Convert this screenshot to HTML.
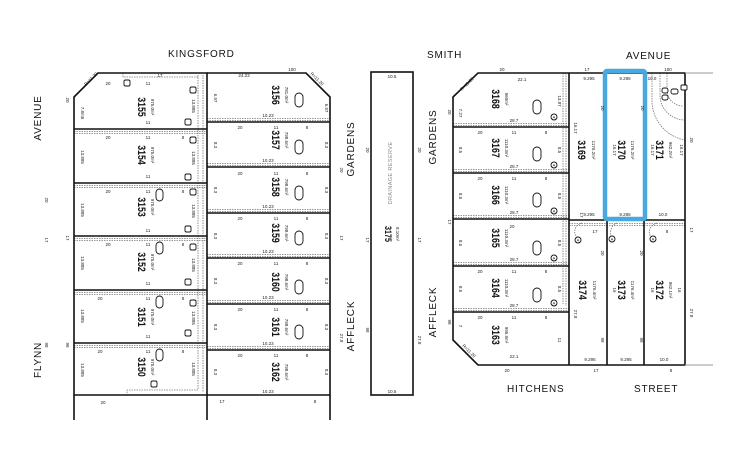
<!DOCTYPE html>
<html><head><meta charset="utf-8"><style>
html,body{margin:0;padding:0;background:#fff;}
svg{display:block;}
text{font-family:"Liberation Sans",Arial,sans-serif;}
</style></head><body>
<svg width="750" height="465" viewBox="0 0 750 465" xmlns="http://www.w3.org/2000/svg">
<rect width="750" height="465" fill="#fff"/>

<!-- Road labels -->
<g font-size="10" fill="#111" letter-spacing="0.8">
<text x="168" y="57">KINGSFORD</text>
<text x="427" y="58">SMITH</text>
<text x="626" y="59">AVENUE</text>
<text x="507" y="392">HITCHENS</text>
<text x="634" y="392">STREET</text>
<text transform="translate(41,118) rotate(-90)" text-anchor="middle">AVENUE</text>
<text transform="translate(41,360) rotate(-90)" text-anchor="middle">FLYNN</text>
<text transform="translate(354,149) rotate(-90)" text-anchor="middle">GARDENS</text>
<text transform="translate(354,326) rotate(-90)" text-anchor="middle">AFFLECK</text>
<text transform="translate(436,137) rotate(-90)" text-anchor="middle">GARDENS</text>
<text transform="translate(436,312) rotate(-90)" text-anchor="middle">AFFLECK</text>
</g>

<!-- Dashed easements -->
<g stroke="#777" stroke-width="0.8" stroke-dasharray="1.5,1" fill="none">
<!-- column 1 -->
<path d="M74 131.5H207M74 133.5H207 M74 185.5H207M74 187.5H207 M74 238.5H207M74 240.5H207 M74 292.5H207M74 294.5H207 M74 345.5H207M74 347.5H207"/>
<path d="M198 75V390H127V395 M203 75V392"/>
<path d="M123 73V77H198"/>
<!-- column 2 -->
<path d="M207 118.5H330M207 120.5H330 M207 163.5H330M207 165.5H330 M207 209.5H330M207 211.5H330 M207 254.5H330M207 256.5H330 M207 300.5H330M207 302.5H330 M207 346.5H330M207 348.5H330"/>
<!-- right column -->
<path d="M453 123.5H569M453 125.5H569 M453 169.5H569M453 171.5H569 M453 215.5H569M453 217.5H569 M453 262.5H569M453 264.5H569 M453 308.5H569M453 310.5H569"/>
<path d="M563 73V304 M566 73V306"/>
<path d="M569 223.5H685M569 225.5H685"/>
<!-- arcs near 3171 -->
<path d="M667 73V90A16 16 0 0 0 683 106 M660 73V95A25 25 0 0 0 685 120 M652 73V100A40 40 0 0 0 685 140"/>
<path d="M582 223C572 226 574 236 578 238 M617 223C609 226 610 236 612 238 M657 223C647 226 648 236 653 238"/>
</g>

<!-- Main boundaries -->
<g stroke="#111" stroke-width="1.6" fill="none">
<!-- column 1 -->
<path d="M98 73H207V395H74V97Z"/>
<path d="M74 129H207M74 183H207M74 236H207M74 290H207M74 343H207"/>
<path d="M74 395V420M207 395V420M330 395V420"/>
<!-- column 2 -->
<path d="M207 73H306L330 97V395H207"/>
<path d="M207 122H330M207 167H330M207 213H330M207 258H330M207 304H330M207 350H330"/>
<!-- drainage reserve -->
<rect x="371" y="72" width="42" height="323"/>
<!-- right block -->
<path d="M478 73H685V365H478L453 340V97Z"/>
<path d="M453 127H569M453 173H569M453 219H569M453 266H569M453 312H569"/>
<path d="M569 73V365M569 220H685M607 220V365M644 220V365"/>
</g>
<g stroke="#999" stroke-width="1" fill="none">
<path d="M685 73H713M685 365H713"/>
</g>

<!-- Lot 3170 highlight -->
<rect x="605" y="71" width="40" height="148" rx="2" fill="none" stroke="#4aa8e0" stroke-width="4.5"/>

<!-- Lot numbers -->
<g font-size="11" font-weight="bold" fill="#111" text-anchor="middle">
<text transform="translate(142,107) rotate(90) scale(0.8,1)" dy="4">3155</text>
<text transform="translate(142,155) rotate(90) scale(0.8,1)" dy="4">3154</text>
<text transform="translate(142,207) rotate(90) scale(0.8,1)" dy="4">3153</text>
<text transform="translate(142,262) rotate(90) scale(0.8,1)" dy="4">3152</text>
<text transform="translate(142,317) rotate(90) scale(0.8,1)" dy="4">3151</text>
<text transform="translate(142,367) rotate(90) scale(0.8,1)" dy="4">3150</text>
<text transform="translate(276,95) rotate(90) scale(0.8,1)" dy="4">3156</text>
<text transform="translate(276,140) rotate(90) scale(0.8,1)" dy="4">3157</text>
<text transform="translate(276,187) rotate(90) scale(0.8,1)" dy="4">3158</text>
<text transform="translate(276,233) rotate(90) scale(0.8,1)" dy="4">3159</text>
<text transform="translate(276,282) rotate(90) scale(0.8,1)" dy="4">3160</text>
<text transform="translate(276,327) rotate(90) scale(0.8,1)" dy="4">3161</text>
<text transform="translate(276,372) rotate(90) scale(0.8,1)" dy="4">3162</text>
<text transform="translate(496,99) rotate(90) scale(0.8,1)" dy="4">3168</text>
<text transform="translate(496,148) rotate(90) scale(0.8,1)" dy="4">3167</text>
<text transform="translate(496,195) rotate(90) scale(0.8,1)" dy="4">3166</text>
<text transform="translate(496,238) rotate(90) scale(0.8,1)" dy="4">3165</text>
<text transform="translate(496,288) rotate(90) scale(0.8,1)" dy="4">3164</text>
<text transform="translate(496,335) rotate(90) scale(0.8,1)" dy="4">3163</text>
<text transform="translate(582,150) rotate(90) scale(0.8,1)" dy="4">3169</text>
<text transform="translate(622,150) rotate(90) scale(0.8,1)" dy="4">3170</text>
<text transform="translate(660,150) rotate(90) scale(0.8,1)" dy="4">3171</text>
<text transform="translate(583,290) rotate(90) scale(0.8,1)" dy="4">3174</text>
<text transform="translate(622,290) rotate(90) scale(0.8,1)" dy="4">3173</text>
<text transform="translate(660,290) rotate(90) scale(0.8,1)" dy="4">3172</text>
<text transform="translate(388,234) rotate(90) scale(0.8,1)" dy="3" font-size="9">3175</text>
</g>

<!-- Areas -->
<g font-size="4.5" fill="#222" text-anchor="middle">
<text transform="translate(151,107) rotate(90)">975.0m²</text>
<text transform="translate(151,155) rotate(90)">975.0m²</text>
<text transform="translate(151,207) rotate(90)">975.0m²</text>
<text transform="translate(151,262) rotate(90)">975.0m²</text>
<text transform="translate(151,317) rotate(90)">975.0m²</text>
<text transform="translate(151,367) rotate(90)">975.0m²</text>
<text transform="translate(285,95) rotate(90)">781.0m²</text>
<text transform="translate(285,140) rotate(90)">798.6m²</text>
<text transform="translate(285,187) rotate(90)">798.6m²</text>
<text transform="translate(285,233) rotate(90)">798.6m²</text>
<text transform="translate(285,282) rotate(90)">798.6m²</text>
<text transform="translate(285,327) rotate(90)">798.6m²</text>
<text transform="translate(285,372) rotate(90)">798.6m²</text>
<text transform="translate(505,99) rotate(90)">960m²</text>
<text transform="translate(505,148) rotate(90)">1110.3m²</text>
<text transform="translate(505,195) rotate(90)">1110.3m²</text>
<text transform="translate(505,238) rotate(90)">1110.3m²</text>
<text transform="translate(505,288) rotate(90)">1110.3m²</text>
<text transform="translate(505,335) rotate(90)">995.9m²</text>
<text transform="translate(592,150) rotate(90)">1176.2m²</text>
<text transform="translate(631,150) rotate(90)">1176.2m²</text>
<text transform="translate(669,150) rotate(90)">962.2m²</text>
<text transform="translate(593,290) rotate(90)">1176.4m²</text>
<text transform="translate(631,290) rotate(90)">1176.4m²</text>
<text transform="translate(669,290) rotate(90)">962.1m²</text>
<text transform="translate(396,234) rotate(90)">8.10m²</text>
</g>

<!-- Drainage reserve label -->
<text transform="translate(392,173) rotate(-90)" text-anchor="middle" font-size="5.5" fill="#888" letter-spacing="0.4">DRAINAGE RESERVE</text>

<!-- Dimension texts -->
<g font-size="4.5" fill="#222" text-anchor="middle">
<text x="108" y="85">20</text><text x="148" y="85">11</text>
<text x="108" y="139">20</text><text x="148" y="139">11</text><text x="183" y="139">8</text>
<text x="108" y="193">20</text><text x="148" y="193">11</text><text x="183" y="193">8</text>
<text x="108" y="246">20</text><text x="148" y="246">11</text><text x="183" y="246">8</text>
<text x="100" y="300">20</text><text x="148" y="300">11</text><text x="183" y="300">8</text>
<text x="100" y="353">20</text><text x="148" y="353">11</text><text x="183" y="353">8</text>
<text x="148" y="124">11</text><text x="148" y="178">11</text><text x="148" y="232">11</text>
<text x="148" y="285">11</text><text x="148" y="338">11</text>
<text x="103" y="404">20</text><text x="160" y="77">17</text>
<text x="244" y="77">24.23</text><text x="292" y="71">100</text>
<text x="240" y="129">20</text><text x="276" y="129">11</text><text x="307" y="129">8</text>
<text x="240" y="175">20</text><text x="276" y="175">11</text><text x="307" y="175">8</text>
<text x="240" y="220">20</text><text x="276" y="220">11</text><text x="307" y="220">8</text>
<text x="240" y="265">20</text><text x="276" y="265">11</text><text x="307" y="265">8</text>
<text x="240" y="311">20</text><text x="276" y="311">11</text><text x="307" y="311">8</text>
<text x="240" y="357">20</text><text x="276" y="357">11</text><text x="307" y="357">8</text>
<text x="268" y="117">10.23</text><text x="268" y="162">10.23</text><text x="268" y="208">10.23</text>
<text x="268" y="253">10.23</text><text x="268" y="299">10.23</text><text x="268" y="345">10.23</text>
<text x="268" y="393">10.23</text>
<text x="222" y="403">17</text><text x="315" y="403">8</text>
<text x="392" y="78">10.5</text><text x="392" y="393">10.5</text>
<text x="502" y="71">20</text><text x="522" y="81">22.1</text>
<text x="514" y="122">28.7</text><text x="514" y="168">28.7</text><text x="514" y="214">28.7</text>
<text x="514" y="261">28.7</text><text x="514" y="307">28.7</text><text x="514" y="358">22.1</text>
<text x="480" y="134">20</text><text x="514" y="134">11</text><text x="546" y="134">8</text>
<text x="480" y="180">20</text><text x="514" y="180">11</text><text x="546" y="180">8</text>
<text x="512" y="228">20</text>
<text x="480" y="273">20</text><text x="514" y="273">11</text><text x="546" y="273">8</text>
<text x="480" y="319">20</text><text x="514" y="319">11</text><text x="546" y="319">8</text>
<text x="507" y="372">20</text>
<text x="587" y="71">17</text><text x="668" y="71">100</text>
<text x="589" y="80">9.295</text><text x="625" y="80">9.295</text><text x="652" y="80">10.0</text>
<text x="589" y="216">9.295</text><text x="625" y="216">9.295</text><text x="663" y="216">10.0</text>
<text x="590" y="361">9.295</text><text x="626" y="361">9.295</text><text x="664" y="361">10.0</text>
<text x="595" y="233">17</text><text x="667" y="233">8</text>
<text x="596" y="372">17</text><text x="671" y="372">8</text>
</g>
<g font-size="4.5" fill="#222" text-anchor="middle">
<text transform="translate(81,113) rotate(90)">7.8m5</text>
<text transform="translate(81,157) rotate(90)">13.885</text>
<text transform="translate(81,210) rotate(90)">13.885</text>
<text transform="translate(81,263) rotate(90)">13.885</text>
<text transform="translate(81,316) rotate(90)">13.885</text>
<text transform="translate(81,370) rotate(90)">13.885</text>
<text transform="translate(192,106) rotate(90)">13.885</text>
<text transform="translate(192,158) rotate(90)">13.885</text>
<text transform="translate(192,211) rotate(90)">13.885</text>
<text transform="translate(192,265) rotate(90)">13.885</text>
<text transform="translate(192,318) rotate(90)">13.885</text>
<text transform="translate(192,369) rotate(90)">13.885</text>
<text transform="translate(214,98) rotate(90)">6.97</text>
<text transform="translate(214,145) rotate(90)">8.3</text>
<text transform="translate(214,190) rotate(90)">8.3</text>
<text transform="translate(214,236) rotate(90)">8.3</text>
<text transform="translate(214,281) rotate(90)">8.3</text>
<text transform="translate(214,327) rotate(90)">8.3</text>
<text transform="translate(214,372) rotate(90)">8.3</text>
<text transform="translate(325,108) rotate(90)">6.97</text>
<text transform="translate(325,145) rotate(90)">8.3</text>
<text transform="translate(325,190) rotate(90)">8.3</text>
<text transform="translate(325,236) rotate(90)">8.3</text>
<text transform="translate(325,281) rotate(90)">8.3</text>
<text transform="translate(325,327) rotate(90)">8.3</text>
<text transform="translate(325,372) rotate(90)">8.3</text>
<text transform="translate(340,170) rotate(90)">20</text>
<text transform="translate(340,238) rotate(90)">17</text>
<text transform="translate(340,338) rotate(90)">27.8</text>
<text transform="translate(366,150) rotate(90)">20</text>
<text transform="translate(366,240) rotate(90)">17</text>
<text transform="translate(366,330) rotate(90)">98</text>
<text transform="translate(418,150) rotate(90)">20</text>
<text transform="translate(418,240) rotate(90)">17</text>
<text transform="translate(418,340) rotate(90)">27.8</text>
<text transform="translate(448,112) rotate(90)">20</text>
<text transform="translate(448,222) rotate(90)">17</text>
<text transform="translate(448,322) rotate(90)">98</text>
<text transform="translate(459,113) rotate(90)">7.27</text>
<text transform="translate(459,150) rotate(90)">8.5</text>
<text transform="translate(459,196) rotate(90)">8.5</text>
<text transform="translate(459,243) rotate(90)">8.5</text>
<text transform="translate(459,289) rotate(90)">8.5</text>
<text transform="translate(459,326) rotate(90)">7</text>
<text transform="translate(558,101) rotate(90)">13.87</text>
<text transform="translate(558,150) rotate(90)">8.5</text>
<text transform="translate(558,196) rotate(90)">8.5</text>
<text transform="translate(558,243) rotate(90)">8.5</text>
<text transform="translate(558,289) rotate(90)">8.5</text>
<text transform="translate(558,340) rotate(90)">11</text>
<text transform="translate(574,128) rotate(90)">16.17</text>
<text transform="translate(601,108) rotate(90)">20</text>
<text transform="translate(613,150) rotate(90)">16.17</text>
<text transform="translate(641,108) rotate(90)">20</text>
<text transform="translate(651,150) rotate(90)">16.17</text>
<text transform="translate(680,150) rotate(90)">16.17</text>
<text transform="translate(690,140) rotate(90)">20</text>
<text transform="translate(690,230) rotate(90)">17</text>
<text transform="translate(690,313) rotate(90)">27.8</text>
<text transform="translate(574,314) rotate(90)">27.8</text>
<text transform="translate(601,253) rotate(90)">20</text>
<text transform="translate(640,253) rotate(90)">20</text>
<text transform="translate(601,340) rotate(90)">98</text>
<text transform="translate(640,340) rotate(90)">98</text>
<text transform="translate(613,290) rotate(90)">16</text>
<text transform="translate(651,290) rotate(90)">16</text>
<text transform="translate(678,290) rotate(90)">16</text>
<text transform="translate(580,215) rotate(90)">17</text>
<text transform="translate(45,200) rotate(90)">20</text>
<text transform="translate(45,240) rotate(90)">17</text>
<text transform="translate(45,345) rotate(90)">98</text>
<text transform="translate(66,100) rotate(90)">20</text>
<text transform="translate(66,238) rotate(90)">17</text>
<text transform="translate(66,345) rotate(90)">98</text>
<text transform="translate(92,80) rotate(-45)">R=11.20</text>
<text transform="translate(316,80) rotate(45)">R=11.20</text>
<text transform="translate(468,85) rotate(-45)">R=11.20</text>
<text transform="translate(468,352) rotate(45)">R=11.20</text>
</g>

<!-- Symbols: small squares / circles -->
<g fill="#fff" stroke="#111" stroke-width="0.9">
<rect x="124" y="80" width="6" height="6" rx="1.5"/>
<rect x="190" y="87" width="6" height="6" rx="1.5"/><rect x="185" y="119" width="6" height="6" rx="1.5"/>
<rect x="190" y="137" width="6" height="6" rx="1.5"/><rect x="185" y="174" width="6" height="6" rx="1.5"/>
<rect x="190" y="189" width="6" height="6" rx="1.5"/><rect x="185" y="226" width="6" height="6" rx="1.5"/>
<rect x="190" y="244" width="6" height="6" rx="1.5"/><rect x="185" y="279" width="6" height="6" rx="1.5"/>
<rect x="190" y="300" width="6" height="6" rx="1.5"/><rect x="185" y="330" width="6" height="6" rx="1.5"/>
<rect x="151" y="381" width="6" height="6" rx="1.5"/>
<rect x="156" y="189" width="7" height="12" rx="3.5"/>
<rect x="156" y="242" width="7" height="12" rx="3.5"/>
<rect x="156" y="296" width="7" height="12" rx="3.5"/>
<rect x="156" y="349" width="7" height="12" rx="3.5"/>
<rect x="295" y="93" width="8" height="14" rx="4"/>
<rect x="295" y="140" width="8" height="14" rx="4"/>
<rect x="295" y="186" width="8" height="14" rx="4"/>
<rect x="295" y="231" width="8" height="14" rx="4"/>
<rect x="295" y="280" width="8" height="14" rx="4"/>
<rect x="295" y="325" width="8" height="14" rx="4"/>
<rect x="533" y="100" width="8" height="14" rx="4"/>
<rect x="533" y="147" width="8" height="14" rx="4"/>
<rect x="533" y="193" width="8" height="14" rx="4"/>
<rect x="533" y="241" width="8" height="14" rx="4"/>
<rect x="533" y="288" width="8" height="14" rx="4"/>
<circle cx="554" cy="117" r="3"/><circle cx="554" cy="165" r="3"/><circle cx="554" cy="211" r="3"/>
<circle cx="554" cy="258" r="3"/><circle cx="554" cy="303" r="3"/>
<circle cx="578" cy="240" r="3"/><circle cx="612" cy="239" r="3"/><circle cx="653" cy="239" r="3"/>
<rect x="662" y="88" width="6" height="5" rx="2"/>
<rect x="662" y="95" width="6" height="5" rx="2"/>
<rect x="671" y="89" width="7" height="5" rx="2"/>
<rect x="681" y="85" width="6" height="5" rx="1"/>
</g>
<g font-size="4" fill="#111" text-anchor="middle">
<text x="554" y="118.5">A</text><text x="554" y="166.5">A</text><text x="554" y="212.5">A</text>
<text x="554" y="259.5">A</text><text x="554" y="304.5">A</text>
<text x="578" y="241.5">A</text><text x="612" y="240.5">A</text><text x="653" y="240.5">A</text>
</g>
</svg>
</body></html>
